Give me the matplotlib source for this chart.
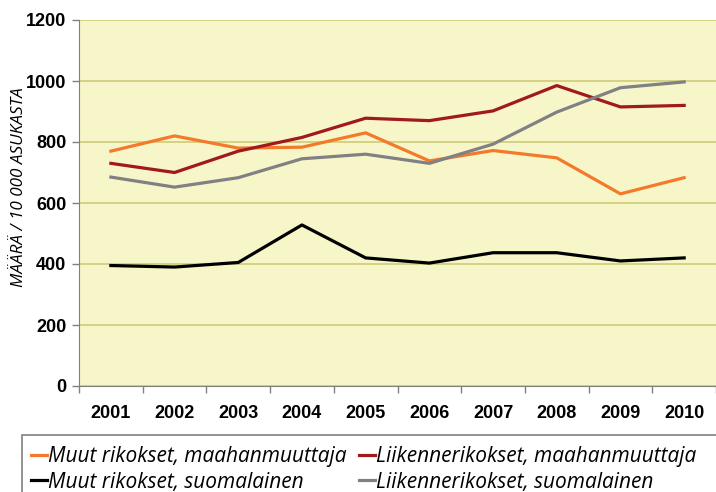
import numpy as np
import matplotlib.pyplot as plt
from matplotlib.patches import Rectangle

years = ["2001", "2002", "2003", "2004", "2005", "2006", "2007", "2008", "2009", "2010"]
muut_maahanmuuttaja = [770, 820, 780, 783, 830, 738, 772, 748, 630, 683]
liikenne_maahanmuuttaja = [730, 700, 770, 815, 878, 870, 902, 985, 915, 920]
muut_suomalainen = [395, 390, 405, 528, 420, 403, 437, 437, 410, 420]
liikenne_suomalainen = [685, 652, 683, 745, 760, 730, 793, 898, 978, 997]

fig = plt.figure(figsize=(7.16, 4.92), dpi=100)
ax = fig.add_axes([79 / 716, 106 / 492, 637 / 716, 366 / 492])
ax.set_facecolor("#f7f6c8")

x = np.arange(len(years))
lw = 2.3
l1, = ax.plot(x, muut_maahanmuuttaja, color="#f47a2b", lw=lw, label="Muut rikokset, maahanmuuttaja")
l2, = ax.plot(x, liikenne_maahanmuuttaja, color="#a0191e", lw=lw, label="Liikennerikokset, maahanmuuttaja")
l4, = ax.plot(x, liikenne_suomalainen, color="#808085", lw=lw, label="Liikennerikokset, suomalainen")
l3, = ax.plot(x, muut_suomalainen, color="#000000", lw=lw, label="Muut rikokset, suomalainen")

ax.set_xlim(-0.5, len(years) - 0.5)
ax.set_ylim(0, 1200)
ax.set_yticks(range(0, 1201, 200))
ax.yaxis.grid(True, color="#cfcb78", lw=1.2)
ax.set_axisbelow(True)

ax.set_xticks(x)
ax.set_xticklabels(years)
ax.set_xticks(np.arange(-0.5, len(years)), minor=True)
ax.tick_params(axis="x", which="major", length=0, pad=14)
ax.tick_params(axis="x", which="minor", length=5, color="#808080", width=1)
ax.tick_params(axis="y", length=5, color="#808080", width=1, pad=4)
for lab in ax.get_xticklabels() + ax.get_yticklabels():
    lab.set_family("Liberation Sans")
    lab.set_fontweight("bold")
    lab.set_fontsize(13)

for side in ["top", "right"]:
    ax.spines[side].set_visible(False)
ax.spines["left"].set_color("#808080")
ax.spines["bottom"].set_color("#808080")

# y-akselin otsikko hieman keskikohdan yläpuolella kuten alkuperäisessä
fig.text(19 / 716, 1 - 187 / 492, "MÄÄRÄ / 10 000 ASUKASTA", family="Open Sans",
         style="italic", fontsize=12.3, rotation=90, ha="center", va="center")

# selitteen kehys jatkuu kuvan reunan yli
fig.patches.append(Rectangle((22 / 716, -0.05), 0.98, 1 - 435 / 492 + 0.05,
                             transform=fig.transFigure, fill=False,
                             edgecolor="#808080", lw=1.2))
leg = fig.legend(handles=[l1, l3, l2, l4], ncol=2, loc="upper left",
                 bbox_to_anchor=(22 / 716, 1 - 437 / 492),
                 prop={"family": "Open Sans", "style": "italic", "size": 15},
                 handlelength=0.75, handletextpad=0.05, columnspacing=0.6,
                 labelspacing=0.2, borderpad=0.45, frameon=False, borderaxespad=0)

fig.savefig("out.png", dpi=100)
